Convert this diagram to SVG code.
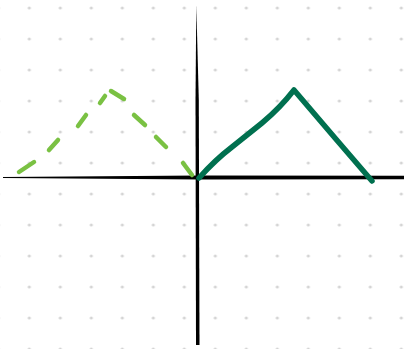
<svg xmlns="http://www.w3.org/2000/svg" width="404" height="349" viewBox="0 0 404 349">
<defs>
<pattern id="dots" x="0" y="0" width="31" height="31" patternUnits="userSpaceOnUse" patternTransform="translate(29.3 8)">
<circle cx="0" cy="0" r="1.6" fill="#d4d4d4"/>
<circle cx="31" cy="0" r="1.6" fill="#d4d4d4"/>
<circle cx="0" cy="31" r="1.6" fill="#d4d4d4"/>
<circle cx="31" cy="31" r="1.6" fill="#d4d4d4"/>
</pattern>
</defs>
<style>
.axis{fill:#000;stroke:none}
.light{fill:none;stroke:#7ac143;stroke-width:4.5;stroke-linecap:round}
.dark{fill:none;stroke:#00704f;stroke-width:5.5;stroke-linecap:round;stroke-linejoin:round}
</style>
<rect width="404" height="349" fill="#fff"/>
<rect width="404" height="349" fill="url(#dots)"/>
<g id="axes">
<path class="axis" d="M3 177 L200 175.5 L404 175.8 L404 179.2 L200 179.5 L3 178 Z"/>
<path class="axis" d="M196.3 5 L198.8 100 L199.5 345 L196 345 L195.5 100 Z"/>
</g>
<g id="dashed-triangle">
<line class="light" x1="19" y1="172" x2="34" y2="162"/>
<line class="light" x1="49" y1="150" x2="58" y2="140"/>
<line class="light" x1="78" y1="126" x2="86" y2="115"/>
<line class="light" x1="100" y1="103" x2="105" y2="96"/>
<line class="light" x1="111" y1="91" x2="124" y2="99"/>
<line class="light" x1="134" y1="115" x2="145" y2="125"/>
<line class="light" x1="156" y1="137" x2="166" y2="147"/>
<line class="light" x1="183" y1="163" x2="192" y2="175"/>
</g>
<g id="solid-triangle">
<path class="dark" d="M199 178 Q215 160 232 147 L262 123 Q280 108 294 90 L335 138 L372 181"/>
</g>
</svg>
